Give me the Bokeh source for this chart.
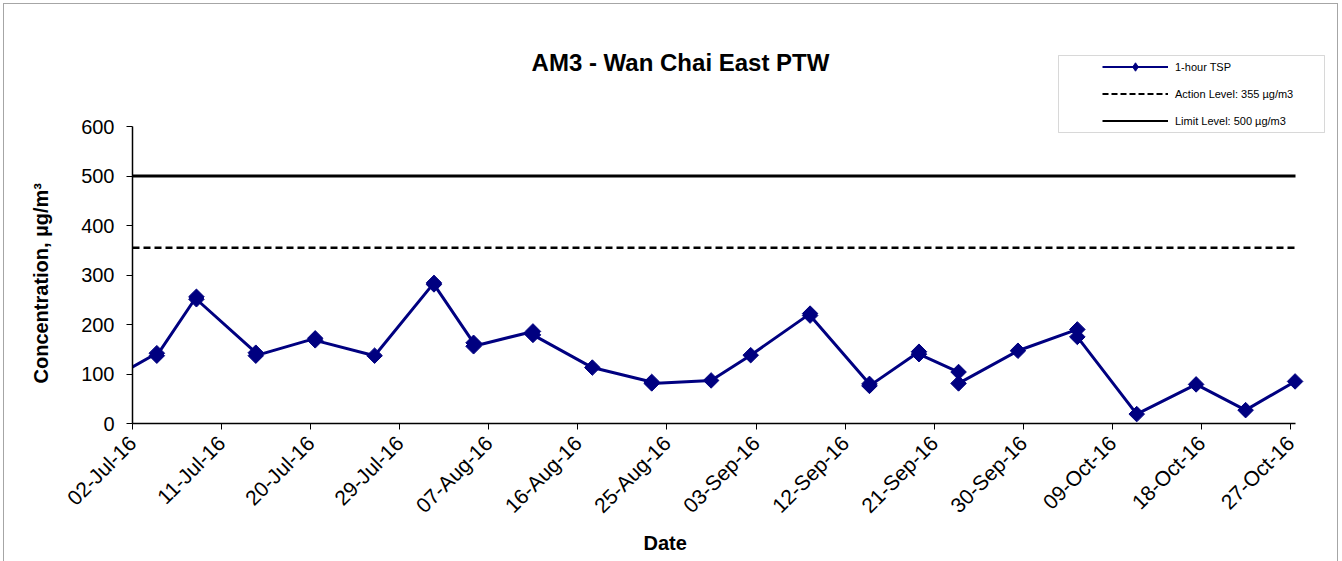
import math
import pandas as pd
from bokeh.plotting import figure
from bokeh.models import (FixedTicker, DatetimeTickFormatter, Label, Legend, LegendItem,
                          BoxAnnotation, Range1d, ColumnDataSource, Title)
from bokeh.embed import file_html
from bokeh.resources import INLINE

# ---------------- data ----------------
sample_dates = ["2016-06-28",
                "2016-07-04", "2016-07-04",
                "2016-07-08", "2016-07-08",
                "2016-07-14", "2016-07-14",
                "2016-07-20", "2016-07-20",
                "2016-07-26",
                "2016-08-01", "2016-08-01",
                "2016-08-05", "2016-08-05",
                "2016-08-11", "2016-08-11",
                "2016-08-17",
                "2016-08-23", "2016-08-23",
                "2016-08-29",
                "2016-09-02",
                "2016-09-08", "2016-09-08",
                "2016-09-14", "2016-09-14",
                "2016-09-19", "2016-09-19",
                "2016-09-23", "2016-09-23",
                "2016-09-29",
                "2016-10-05", "2016-10-05",
                "2016-10-11",
                "2016-10-17",
                "2016-10-22",
                "2016-10-27"]
tsp_1hr = [74,
           142, 137,
           256, 251,
           143, 137,
           172, 168,
           137,
           284, 281,
           163, 156,
           186, 179,
           113,
           84, 81,
           87,
           138,
           222, 218,
           80, 76,
           145, 140,
           104, 81,
           147,
           190, 175,
           19,
           79,
           27,
           85]
sample_time = "11:00"

action_level = 355
limit_level = 500

tick_dates = ["2016-07-02", "2016-07-11", "2016-07-20", "2016-07-29", "2016-08-07",
              "2016-08-16", "2016-08-25", "2016-09-03", "2016-09-12", "2016-09-21",
              "2016-09-30", "2016-10-09", "2016-10-18", "2016-10-27"]
y_ticks = [0, 100, 200, 300, 400, 500, 600]
y_min, y_max = 0, 600
x_start = "2016-07-02 00:00"
x_end = "2016-10-27 12:00"

title_text = "AM3 - Wan Chai East PTW"
y_label = "Concentration, µg/m³"
x_label = "Date"
legend_labels = ["1-hour TSP", "Action Level: 355 µg/m3", "Limit Level: 500 µg/m3"]

# ---------------- layout constants (pixels) ----------------
W, H = 1342, 561
FRAME_LEFT = 132          # y axis position
AXIS_TOP = 126            # pixel row of y = 600
AXIS_BOTTOM = 423         # pixel row of y = 0
AXIS_RIGHT = 1295         # end of x axis

NAVY = "#000080"
FONT = "Liberation Sans"

xs = pd.to_datetime([d + " " + sample_time for d in sample_dates])
src = ColumnDataSource(dict(x=xs, y=tsp_1hr))
t0 = pd.Timestamp(x_start)
t1 = pd.Timestamp(x_end)
lvl_src = ColumnDataSource(dict(x=[t0, t1], limit=[limit_level] * 2,
                                action=[action_level] * 2))

# the frame is extended upward and rightward (axes keep their bounds) so the
# title / legend drawn above the data area are not clipped
px_per_unit = (AXIS_BOTTOM - AXIS_TOP) / (y_max - y_min)
y_top = y_min + AXIS_BOTTOM / px_per_unit
px_per_ms = (AXIS_RIGHT - FRAME_LEFT) / (t1 - t0).total_seconds() / 1000
x_right = t0 + pd.Timedelta(milliseconds=(W - FRAME_LEFT) / px_per_ms)

p = figure(width=W, height=H, x_axis_type="datetime",
           x_range=Range1d(start=t0, end=x_right), y_range=Range1d(start=y_min, end=y_top),
           output_backend="svg", toolbar_location=None,
           min_border_left=FRAME_LEFT, min_border_right=0,
           min_border_top=0, min_border_bottom=H - AXIS_BOTTOM)
p.title.visible = False
p.xgrid.visible = False
p.ygrid.visible = False
p.outline_line_color = None
p.background_fill_color = None
p.border_fill_color = None
p.styles = {"box-shadow": "inset 3px 3px 0 0 #ffffff, inset -4px 0 0 0 #ffffff, "
                          "inset 4px 4px 0 0 #a6a6a6, inset -5px 0 0 0 #a6a6a6",
            "background-color": "white"}

# threshold lines
p.line("x", "limit", source=lvl_src, line_color="black", line_width=3)
p.line("x", "action", source=lvl_src, line_color="black", line_width=2.5, line_dash="7 4")

# data
p.line("x", "y", source=src, line_color=NAVY, line_width=3)
p.scatter("x", "y", source=src, marker="square", angle=math.pi / 4, size=11,
          fill_color=NAVY, line_color=NAVY)

# axes
p.xaxis.ticker = FixedTicker(ticks=[pd.Timestamp(d).value // 10**6 for d in tick_dates])
fmt = "%d-%b-%y"
p.xaxis.formatter = DatetimeTickFormatter(
    milliseconds=fmt, seconds=fmt, minsec=fmt, minutes=fmt, hourmin=fmt,
    hours=fmt, days=fmt, months=fmt, years=fmt)
p.xaxis.major_label_orientation = math.pi / 4
p.xaxis.bounds = (t0.value // 10**6, t1.value // 10**6)
p.yaxis.ticker = FixedTicker(ticks=y_ticks)
p.yaxis.bounds = (y_min, y_max)
for ax in (p.xaxis, p.yaxis):
    ax.axis_line_color = "black"
    ax.axis_line_width = 1.5
    ax.major_tick_in = 0
    ax.major_tick_out = 6
    ax.major_tick_line_color = "black"
    ax.minor_tick_line_color = None
    ax.major_label_text_font = FONT
    ax.major_label_text_color = "black"
p.yaxis.major_label_text_font_size = "20px"
p.xaxis.major_label_text_font_size = "21px"
p.yaxis.major_label_standoff = 12
p.xaxis.major_label_standoff = 10

# title (inside the extended frame), axis titles as side-panel titles
p.add_layout(Label(x=548, y=361, x_units="screen", y_units="screen", text=title_text,
                   text_align="center", text_baseline="middle", text_font=FONT,
                   text_font_style="bold", text_font_size="24px", text_color="black"))
p.add_layout(Title(text=x_label, align="left", offset=511, text_font=FONT,
                   text_font_style="bold", text_font_size="20px", text_color="black",
                   standoff=2), "below")
p.add_layout(Title(text=y_label, align="left", offset=40, text_font=FONT,
                   text_font_style="bold", text_font_size="20px", text_color="black",
                   standoff=53), "left")

# legend (legend-only renderers, hidden in the plot)
lg_line = p.line("x", "y", source=src, line_color=NAVY, line_width=2, visible=False)
lg_mark = p.scatter("x", "y", source=src, marker="diamond", size=7.5,
                    fill_color=NAVY, line_color=NAVY, visible=False)
lg_action = p.line("x", "action", source=lvl_src, line_color="black", line_width=2,
                   line_dash="6 3", visible=False)
lg_limit = p.line("x", "limit", source=lvl_src, line_color="black", line_width=2,
                  visible=False)
legend = Legend(items=[LegendItem(label=legend_labels[0], renderers=[lg_line, lg_mark]),
                       LegendItem(label=legend_labels[1], renderers=[lg_action]),
                       LegendItem(label=legend_labels[2], renderers=[lg_limit])],
                location=(970, 292), border_line_color=None, background_fill_alpha=0,
                inactive_fill_alpha=0, click_policy="none",
                padding=0, margin=0, spacing=6, glyph_width=66, glyph_height=21,
                label_height=21, label_standoff=7, label_text_font=FONT,
                label_text_font_size="11px", label_text_color="black")
p.add_layout(legend)
p.add_layout(BoxAnnotation(left=926, right=1192, bottom=291, top=368,
                           left_units="screen", right_units="screen",
                           top_units="screen", bottom_units="screen",
                           fill_color=None, line_color="#7f7f7f", line_width=1))

open("out.html", "w").write(file_html(p, INLINE))
